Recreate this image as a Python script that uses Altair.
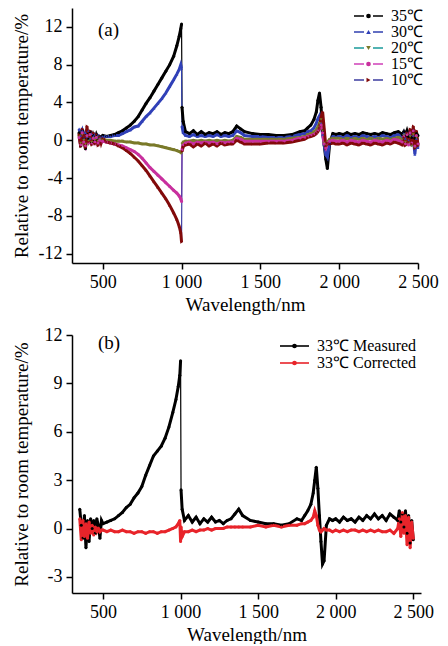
import altair as alt
import pandas as pd

# ---------------- data ----------------
wl = [350, 360, 370, 380, 390, 400, 410, 420, 430, 440, 450, 460, 470, 480, 490, 500,
      525, 550, 575, 600, 625, 650, 675, 700, 725, 750, 775, 800, 825, 850, 875, 900, 925, 950,
      970, 985, 995, 1000, 1003, 1010, 1025,
      1050, 1075, 1100, 1125, 1150, 1175, 1200, 1225, 1250, 1275, 1300,
      1325, 1350, 1375, 1400,
      1450, 1500, 1550, 1600, 1650, 1700, 1750,
      1780, 1800, 1820, 1840, 1855, 1865, 1875, 1885, 1895, 1905, 1915, 1925, 1940, 1960, 1980,
      2000, 2025, 2050, 2075, 2100, 2125, 2150, 2175, 2200, 2225, 2250, 2275, 2300, 2325, 2350, 2375,
      2400, 2410, 2420, 2430, 2440, 2450, 2460, 2470, 2480, 2490, 2500]

t35 = [0.8, -0.6, 1.0, 0.2, -0.9, 0.6, 0.1, 0.9, -0.3, 0.5, 0.0, 0.6, 0.2, 0.4, 0.3, 0.5,
       0.4, 0.5, 0.6, 0.8, 1.0, 1.3, 1.6, 2.0, 2.5, 3.2, 3.9, 4.5, 5.2, 5.9, 6.6, 7.3, 8.0, 8.9,
       10.0, 11.0, 11.8, 12.3, 3.5, 2.0, 0.9,
       0.7, 1.0, 0.6, 0.9, 0.6, 0.8, 0.7, 0.9, 0.6, 0.8, 0.7,
       0.9, 1.5, 1.2, 0.9,
       0.7, 0.6, 0.6, 0.5, 0.5, 0.6, 0.9,
       1.0, 1.3, 1.6, 2.2, 3.0, 4.2, 5.0, 3.5, 1.0, -0.5, -2.0, -3.0, -0.3, 0.7, 0.6,
       0.7, 0.6, 0.8, 0.6, 0.7, 0.6, 0.8, 0.7, 0.6, 0.7, 0.6, 0.8, 0.7, 0.6, 0.8, 0.9,
       0.6, 0.9, 0.5, 1.0, 0.4, 0.8, 0.3, 1.0, 0.2, 0.7, 0.5]

t30 = [1.2, 0.5, 1.0, 0.3, 0.8, 0.4, 1.0, 0.2, 0.7, 0.4, 0.6, 0.3, 0.5, 0.4, 0.3, 0.4,
       0.4, 0.4, 0.5, 0.5, 0.7, 0.9, 1.1, 1.4, 1.5, 2.0, 2.5, 2.9, 3.4, 3.9, 4.4, 5.0, 5.7, 6.4,
       7.0, 7.5, 8.0, 7.6, 1.5, 0.8, 0.5,
       0.4, 0.6, 0.4, 0.5, 0.4, 0.5, 0.4, 0.6, 0.4, 0.5, 0.4,
       0.5, 1.0, 0.8, 0.5,
       0.4, 0.4, 0.3, 0.3, 0.3, 0.4, 0.6,
       0.7, 0.9, 1.0, 1.3, 1.8, 2.3, 2.6, 1.8, 0.6, -0.5, -1.5, -1.8, -0.2, 0.4, 0.4,
       0.4, 0.3, 0.5, 0.3, 0.4, 0.3, 0.5, 0.4, 0.3, 0.4, 0.3, 0.5, 0.4, 0.3, 0.5, 0.6,
       0.3, 0.7, 0.2, 0.8, 0.0, 0.6, -0.5, 0.5, -1.5, 0.2, -0.8]

t20 = [0.5, -0.3, 0.6, 0.0, -0.4, 0.4, -0.1, 0.5, -0.2, 0.2, 0.0, 0.3, -0.1, 0.1, 0.0, 0.1,
       0.0, 0.0, -0.1, -0.1, -0.1, -0.2, -0.2, -0.3, -0.3, -0.4, -0.4, -0.5, -0.5, -0.6, -0.7, -0.8, -0.9, -1.0,
       -1.1, -1.2, -1.3, -1.4, -0.4, -0.2, -0.1,
       -0.1, 0.0, -0.1, 0.0, -0.1, 0.0, -0.1, 0.0, -0.1, 0.0, -0.1,
       0.0, 0.4, 0.3, 0.1,
       0.1, 0.1, 0.1, 0.1, 0.1, 0.2, 0.3,
       0.4, 0.6, 0.7, 0.9, 1.1, 1.4, 1.8, 2.2, 1.0, -0.3, -0.6, -0.2, 0.1, 0.2, 0.2,
       0.2, 0.1, 0.2, 0.1, 0.2, 0.1, 0.2, 0.1, 0.2, 0.1, 0.2, 0.1, 0.2, 0.1, 0.2, 0.3,
       0.1, 0.5, -0.2, 0.6, -0.3, 0.4, -0.6, 0.6, -0.8, 0.3, -0.5]

t15 = [0.3, -0.5, 0.8, -0.2, -0.6, 0.5, -0.3, 0.6, -0.4, 0.2, -0.2, 0.3, -0.3, 0.0, -0.2, -0.1,
       -0.2, -0.3, -0.4, -0.5, -0.6, -0.8, -1.0, -1.2, -1.5, -1.9, -2.4, -2.9, -3.3, -3.7, -4.1, -4.5, -4.9, -5.3,
       -5.6, -5.9, -6.2, -6.5, -1.0, -0.5, -0.3,
       -0.2, -0.4, -0.2, -0.3, -0.2, -0.3, -0.2, -0.4, -0.2, -0.3, -0.2,
       -0.2, 0.2, 0.1, -0.1,
       -0.1, -0.1, -0.1, -0.1, -0.1, 0.0, 0.2,
       0.3, 0.4, 0.5, 0.6, 0.8, 1.0, 1.3, 1.6, 0.8, -0.4, -0.8, -0.3, -0.1, 0.0, -0.1,
       -0.1, 0.0, -0.2, 0.0, -0.1, -0.2, 0.0, -0.1, -0.2, 0.0, -0.1, -0.2, 0.0, -0.1, 0.1, 0.0,
       -0.2, 0.4, -0.4, 0.6, -0.5, 0.8, -0.3, 1.0, -0.6, 0.5, -0.4]

t10 = [0.6, -0.7, 1.2, 0.3, -0.8, 1.5, -0.2, 1.0, -0.5, 0.8, -0.4, 0.6, -0.6, 0.4, -0.3, 0.2,
       -0.2, -0.3, -0.4, -0.6, -0.8, -1.1, -1.4, -1.8, -2.2, -2.7, -3.2, -3.8, -4.4, -5.0, -5.6, -6.2, -6.9, -7.7,
       -8.4, -9.1, -9.8, -10.8, -1.2, -0.7, -0.5,
       -0.4, -0.7, -0.4, -0.6, -0.3, -0.6, -0.4, -0.6, -0.3, -0.5, -0.4,
       -0.4, 0.0, -0.2, -0.4,
       -0.4, -0.4, -0.3, -0.3, -0.3, -0.2, 0.0,
       0.1, 0.3, 0.4, 0.5, 0.7, 0.9, 1.3, 2.5, 3.0, 1.2, -0.6, -0.3, -0.4, -0.3, -0.4,
       -0.4, -0.3, -0.5, -0.3, -0.4, -0.5, -0.3, -0.4, -0.5, -0.3, -0.4, -0.5, -0.3, -0.4, -0.2, -0.3,
       -0.5, 0.3, -0.6, 0.8, -0.2, 1.2, -0.4, 1.5, -0.9, 1.0, -0.6]

measured = [1.2, 0.2, -0.6, 0.8, -1.2, 0.5, -0.8, 0.6, 0.0, 0.5, -0.3, 0.6, 0.2, -0.6, 0.5, 0.3,
            0.4, 0.5, 0.6, 0.8, 1.0, 1.3, 1.5, 1.9, 2.2, 2.6, 3.3, 3.9, 4.5, 4.8, 5.1, 5.6, 6.3, 7.2,
            8.0, 8.8, 9.5, 10.4, 2.4, 1.2, 0.5,
            0.8, 0.4, 0.7, 0.3, 0.6, 0.4, 0.7, 0.4, 0.5, 0.3, 0.5,
            0.6, 0.9, 1.2, 0.8,
            0.5, 0.4, 0.3, 0.3, 0.2, 0.3, 0.6,
            0.5, 0.8, 1.1, 1.5, 2.2, 3.0, 3.8, 2.5, 0.8, -0.8, -2.2, -2.0, 0.2, 0.6, 0.5,
            0.6, 0.4, 0.7, 0.5, 0.6, 0.4, 0.7, 0.5, 0.8, 0.6, 0.9, 0.6, 0.8, 0.5, 0.9, 0.7,
            0.5, 1.1, 0.4, 0.9, 0.1, 1.1, -0.3, 0.8, -0.9, 0.5, -0.7]

corrected = [0.6, -0.7, 0.5, -0.5, 0.3, -0.6, 0.4, -0.3, 0.2, -0.4, 0.1, -0.2, 0.0, -0.2, -0.1, -0.1,
             -0.2, -0.1, -0.2, -0.2, -0.1, -0.2, -0.2, -0.3, -0.2, -0.2, -0.3, -0.2, -0.2, -0.3, -0.2, -0.2, -0.1, 0.0,
             0.1, 0.3, 0.5, -0.8, 0.1, -0.5, -0.2,
             -0.2, -0.1, -0.2, -0.1, -0.1, 0.0, -0.1, 0.0, 0.0, 0.0, 0.1,
             0.1, 0.1, 0.1, 0.1,
             0.1, 0.2, 0.1, 0.2, 0.1, 0.2, 0.2,
             0.3, 0.3, 0.4, 0.5, 0.7, 1.1, 0.8, 0.2, -0.1, -0.2, -0.1, 0.0, -0.1, -0.1, -0.2,
             -0.1, -0.2, -0.1, -0.2, -0.1, -0.1, -0.2, -0.1, -0.2, -0.1, -0.2, -0.1, -0.2, -0.2, -0.1, -0.3,
             0.0, 0.6, -0.5, 1.0, -0.3, 0.8, -1.0, 0.7, -1.2, 0.4, -0.6]

labels_a = ["35℃", "30℃", "20℃", "15℃", "10℃"]
labels_b = ["33℃ Measured", "33℃ Corrected"]

# ---------------- styles ----------------
line_colors_a = ["#000000", "#3040b0", "#1a9a9a", "#d040b8", "#3c3ca0"]
marker_colors_a = ["#000000", "#3040b8", "#7a7a2a", "#c8309e", "#820a0a"]
shapes_a = ["circle", "triangle-up", "triangle-down", "circle", "triangle-right"]
line_colors_b = ["#000000", "#e8242a"]
marker_colors_b = ["#000000", "#e8242a"]

FONT = "Liberation Serif"
AXIS_FS = 18
TITLE_FS = 19


def long_frame(series, labels):
    rows = []
    for vals, lab in zip(series, labels):
        assert len(vals) == len(wl), (lab, len(vals))
        for w, v in zip(wl, vals):
            rows.append({"wl": w, "val": v, "series": lab, "seg": int(w > 1001)})
    return pd.DataFrame(rows)


x_labels = "replace(format(datum.value, ','), ',', ' ')"
y_labels = "'' + datum.value"


def panel(df, labels, lcols, mcols, shapes, xdom, ydom, yticks, w, h, tag, tag_y,
          leg_x0, leg_y0, leg_dy, dashed, leg_fs):
    xenc = alt.X("wl:Q", scale=alt.Scale(domain=xdom, nice=False, zero=False),
                 axis=alt.Axis(values=[500, 1000, 1500, 2000, 2500], labelExpr=x_labels,
                               labelFlush=False, title="Wavelength/nm"))
    yenc = alt.Y("val:Q", scale=alt.Scale(domain=ydom, nice=False, zero=False),
                 axis=alt.Axis(values=yticks, labelExpr=y_labels, labelFlush=False,
                               title="Relative to room temperature/%",
                               titleX=-51, titleBaseline="middle"))
    base = alt.Chart(df)
    thin = base.mark_line(strokeWidth=1.2).encode(
        x=xenc, y=yenc,
        stroke=alt.Stroke("series:N", scale=alt.Scale(domain=labels, range=lcols), legend=None),
        order="wl:Q")
    thick = base.mark_line(strokeWidth=3).encode(
        x=xenc, y=yenc,
        color=alt.Color("series:N", scale=alt.Scale(domain=labels, range=mcols), legend=None),
        detail="seg:N", order="wl:Q")
    pts = base.mark_point(filled=True, size=9, opacity=1).encode(
        x=xenc, y=yenc,
        color=alt.Color("series:N", scale=alt.Scale(domain=labels, range=mcols), legend=None),
        shape=alt.Shape("series:N", scale=alt.Scale(domain=labels, range=shapes), legend=None))
    layers = [thin, thick, pts]

    tag_df = pd.DataFrame({"t": [tag]})
    layers.append(alt.Chart(tag_df).mark_text(font=FONT, fontSize=TITLE_FS, color="black",
                                              align="left", baseline="middle").encode(
        x=alt.value(26), y=alt.value(tag_y), text="t:N"))

    for i, lab in enumerate(labels):
        ly = leg_y0 + leg_dy * i
        one = pd.DataFrame({"label": [lab]})
        rule_kw = dict(color=lcols[i], strokeWidth=1.6)
        if dashed:
            rule_kw["strokeDash"] = [10, 9]
        layers.append(alt.Chart(one).mark_rule(**rule_kw).encode(
            x=alt.value(leg_x0), x2=alt.value(leg_x0 + 29), y=alt.value(ly)))
        layers.append(alt.Chart(one).mark_point(filled=True, shape=shapes[i], color=mcols[i],
                                                size=22, opacity=1).encode(
            x=alt.value(leg_x0 + 14.5), y=alt.value(ly)))
        layers.append(alt.Chart(one).mark_text(font=FONT, fontSize=leg_fs, color="black",
                                               align="left", baseline="middle").encode(
            x=alt.value(leg_x0 + 37), y=alt.value(ly), text="label:N"))

    return alt.layer(*layers).properties(width=w, height=h)


df_a = long_frame([t35, t30, t20, t15, t10], labels_a)
df_b = long_frame([measured, corrected], labels_b)

pa = panel(df_a, labels_a, line_colors_a, marker_colors_a, shapes_a,
           [305, 2500], [-13, 14], [-12, -8, -4, 0, 4, 8, 12], 346, 255, "(a)", 22,
           282, 8, 16, True, 16)
pb = panel(df_b, labels_b, line_colors_b, marker_colors_b, ["circle", "circle"],
           [300, 2550], [-4, 12], [-3, 0, 3, 6, 9, 12], 349, 258, "(b)", 8,
           208, 11, 17, False, 16)

chart = alt.vconcat(pa, pb, spacing=12).resolve_scale(
    color="independent", stroke="independent", shape="independent",
    x="independent", y="independent"
).properties(
    padding={"left": 11, "top": 8, "right": 5, "bottom": 0},
    background="white"
).configure_axis(
    domainColor="black", domainWidth=1.5, tickColor="black", tickWidth=1.5, tickSize=6,
    labelFont=FONT, labelFontSize=AXIS_FS, labelColor="black", labelPadding=4,
    titleFont=FONT, titleFontSize=TITLE_FS, titleFontWeight="normal", titleColor="black",
    grid=False
).configure_view(stroke=None)

chart.save("out.html", embed_options={"renderer": "svg", "actions": False})
